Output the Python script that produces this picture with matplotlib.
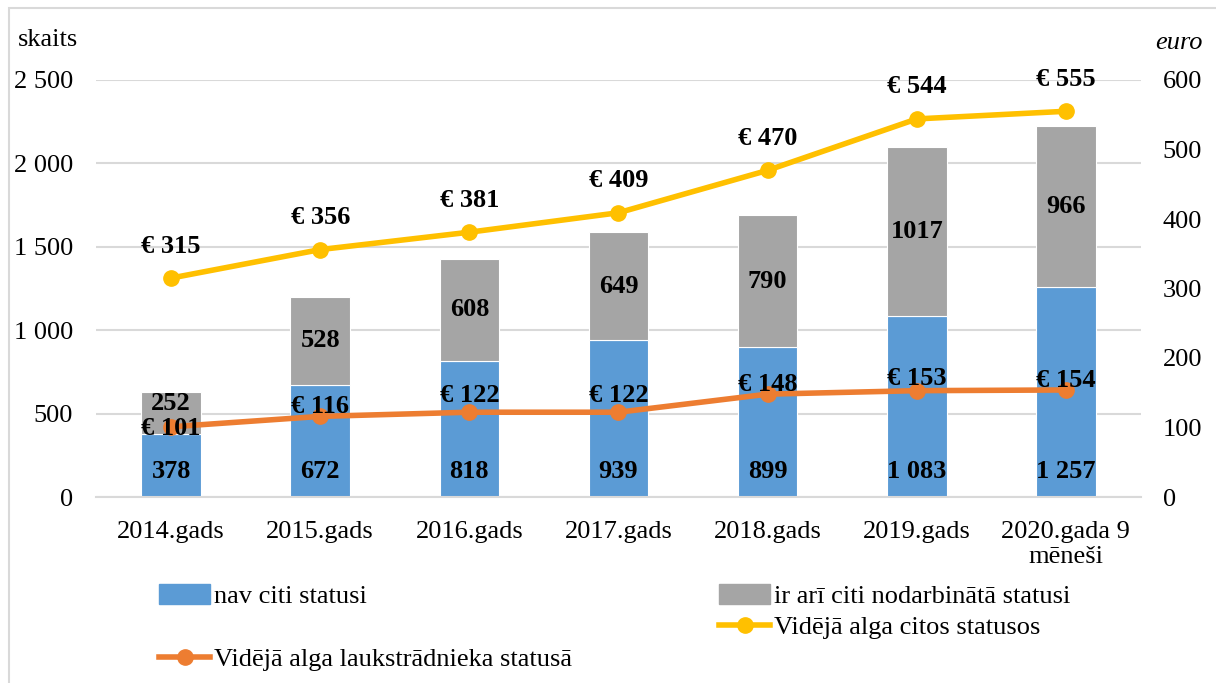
import numpy as np
import matplotlib
matplotlib.use('Agg')
import matplotlib.pyplot as plt
from matplotlib.patches import Patch, Rectangle
from matplotlib.lines import Line2D

plt.rcParams['font.family'] = ['Liberation Serif', 'DejaVu Serif']

# Dati
gadi = ['2014.gads', '2015.gads', '2016.gads', '2017.gads', '2018.gads',
        '2019.gads', '2020.gada 9\nmēneši']
nav_citi = [378, 672, 818, 939, 899, 1083, 1257]
ir_citi = [252, 528, 608, 649, 790, 1017, 966]
alga_citos = [315, 356, 381, 409, 470, 544, 555]
alga_lauk = [101, 116, 122, 122, 148, 153, 154]

c_blue, c_gray = '#5B9BD5', '#A5A5A5'
c_yel, c_ora = '#FFC000', '#ED7D31'
grid_c = '#D9D9D9'
fs = 19

def sp(v):
    return f"{v:,}".replace(',', ' ')

fig = plt.figure(figsize=(12.16, 6.83), dpi=100)
ax = fig.add_axes([96.5/1216, 1-497/683, 1044/1216, 417/683])
x = np.arange(len(gadi))

ax.bar(x, nav_citi, width=0.4, color=c_blue, edgecolor='white', linewidth=0.8, zorder=2)
ax.bar(x, ir_citi, width=0.4, bottom=nav_citi, color=c_gray, edgecolor='white', linewidth=0.8, zorder=2)

ax.set_xlim(-0.5, len(gadi) - 0.5)
ax.set_ylim(0, 2500)
ax.set_yticks(range(0, 2501, 500))
ax.set_yticklabels([sp(v) for v in range(0, 2501, 500)])
ax.yaxis.grid(True, color=grid_c, linewidth=1.5, zorder=0)
ax.set_axisbelow(True)
for s in ['top', 'right', 'left']:
    ax.spines[s].set_visible(False)
ax.spines['bottom'].set_color(grid_c)
ax.spines['bottom'].set_linewidth(1.5)
ax.tick_params(axis='both', length=0, labelsize=fs)
ax.tick_params(axis='y', pad=17)
ax.tick_params(axis='x', pad=17)
ax.set_xticks(x)
ax.set_xticklabels(gadi, linespacing=1.2)

# pelēko uzrakstu nobīde (pt), pirmais stabiņš ir šaurs
gray_off = [7, 0, 0, 0, 0, 0, 0]
for i in x:
    ax.annotate(sp(nav_citi[i]), (i, 0), xytext=(0, 18), textcoords='offset points',
                ha='center', va='center', fontsize=fs, fontweight='bold', zorder=5)
    ax.annotate(str(ir_citi[i]), (i, nav_citi[i] + ir_citi[i] / 2), xytext=(0, gray_off[i]),
                textcoords='offset points', ha='center', va='center',
                fontsize=fs, fontweight='bold', zorder=5)

ax2 = ax.twinx()
ax2.set_ylim(0, 600)
ax2.set_yticks(range(0, 601, 100))
for s in ax2.spines.values():
    s.set_visible(False)
ax2.tick_params(axis='y', length=0, labelsize=fs, pad=16)

ax2.plot(x, alga_citos, color=c_yel, lw=4, marker='o', ms=11, zorder=4)
ax2.plot(x, alga_lauk, color=c_ora, lw=4, marker='o', ms=11, zorder=4)

for i in x:
    ax2.annotate(f"€ {alga_citos[i]}", (i, alga_citos[i]), xytext=(0, 23),
                 textcoords='offset points', ha='center', va='center',
                 fontsize=fs, fontweight='bold', zorder=6)
lauk_off = [-1, 7, 12, 12, 7, 9, 7]
for i in x:
    ax2.annotate(f"€ {alga_lauk[i]}", (i, alga_lauk[i]), xytext=(0, lauk_off[i]),
                 textcoords='offset points', ha='center', va='center',
                 fontsize=fs, fontweight='bold', zorder=6)

fig.text(18/1216, 1-40/683, 'skaits', fontsize=fs, ha='left', va='center')
fig.text(1203/1216, 1-43/683, 'euro', fontsize=fs, ha='right', va='center', style='italic')

# Leģenda
entries = [
    (Patch(color=c_blue), 'nav citi statusi', 159, 596),
    (Patch(color=c_gray), 'ir arī citi nodarbinātā statusi', 719, 596),
    (Line2D([], [], color=c_yel, lw=4, marker='o', ms=11), 'Vidējā alga citos statusos', 719, 627),
    (Line2D([], [], color=c_ora, lw=4, marker='o', ms=11), 'Vidējā alga laukstrādnieka statusā', 159, 659),
]
for h, lab, px, py in entries:
    fig.legend([h], [lab], loc='center left', bbox_to_anchor=(px/1216, 1-py/683),
               frameon=False, fontsize=fs, borderpad=0, borderaxespad=0,
               handlelength=1.95, handleheight=0.8, handletextpad=0.12)

fig.add_artist(Rectangle((9/1216, -0.05), 1.1, 1-8/683+0.05, transform=fig.transFigure,
                         fill=False, edgecolor=grid_c, linewidth=1.5))

fig.savefig('out.png', dpi=100)
